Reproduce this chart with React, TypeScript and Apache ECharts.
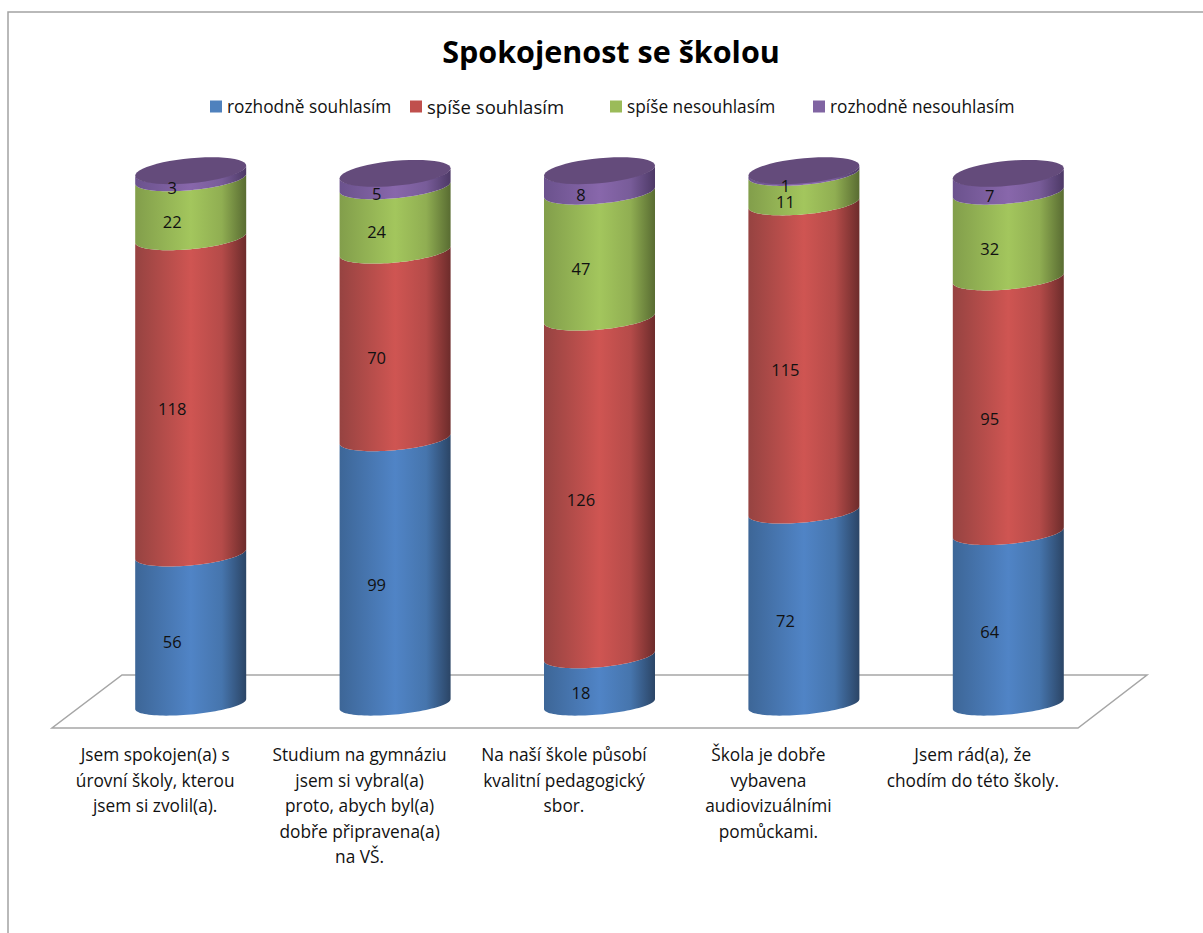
import React, { useEffect, useRef } from "react";
import * as echarts from "echarts";

const title = "Spokojenost se školou";
const categories = [
  "Jsem spokojen(a) s\núrovní školy, kterou\njsem si zvolil(a).",
  "Studium na gymnáziu\njsem si vybral(a)\nproto, abych byl(a)\ndobře připravena(a)\nna VŠ.",
  "Na naší škole působí\nkvalitní pedagogický\nsbor.",
  "Škola je dobře\nvybavena\naudiovizuálními\npomůckami.",
  "Jsem rád(a), že\nchodím do této školy.",
];
const seriesNames = ["rozhodně souhlasím", "spíše souhlasím", "spíše nesouhlasím", "rozhodně nesouhlasím"];
const stronglyAgree = [56, 99, 18, 72, 64];
const ratherAgree = [118, 70, 126, 115, 95];
const ratherDisagree = [22, 24, 47, 11, 32];
const stronglyDisagree = [3, 5, 8, 1, 7];
const seriesValues = [stronglyAgree, ratherAgree, ratherDisagree, stronglyDisagree];
const legendColors = ["#4f81bd", "#c0504d", "#9bbb59", "#8064a2"];
const legendLefts = [205, 405, 605, 808];
const legendTops = [93, 92, 93, 93];
const legendSizes = [17.3, 18.5, 17.3, 17.3];
const shades = [
  ["#3d6697", "#5084c6", "#4675ad", "#2b4566"],
  ["#964341", "#cf5552", "#b54b49", "#6d2c2b"],
  ["#829e4b", "#a3c65d", "#90ae52", "#596c32"],
  ["#6b528d", "#8867ab", "#785c99", "#4d3966"],
];
const capColor = "#644b7b";

const FONT = "'Open Sans', Lato, sans-serif";
const DEPTH_X = 35.5;
const HALF = 55.5;
const TILT = 5;
const MINOR = 11.5;
const CAP_MINOR = 12.5;

function arc(cx: number, cy: number, from: number, to: number, minor: number) {
  const pts: number[][] = [];
  const n = 48;
  for (let i = 0; i <= n; i++) {
    const t = from + ((to - from) * i) / n;
    pts.push([cx + HALF * Math.cos(t), cy - TILT * Math.cos(t) + minor * Math.sin(t)]);
  }
  return pts;
}

function makeRender(idx: number) {
  const s = shades[idx];
  const fill = new echarts.graphic.LinearGradient(0, 0, 1, 0, [
    { offset: 0, color: s[0] },
    { offset: 0.5, color: s[1] },
    { offset: 0.78, color: s[2] },
    { offset: 1, color: s[3] },
  ]);
  return (params: any, api: any) => {
    const i = api.value(0);
    const start = api.value(1);
    const end = api.value(2);
    const p0 = api.coord([i, start]);
    const p1 = api.coord([i, end]);
    const cx = p0[0] + DEPTH_X;
    const pts = [...arc(cx, p0[1], Math.PI, 0, start === 0 ? 10.5 : MINOR), ...arc(cx, p1[1], 0, Math.PI, MINOR)];
    const children: any[] = [{ type: "polygon", shape: { points: pts }, style: { fill } }];
    if (idx === seriesValues.length - 1) {
      children.push({
        type: "polygon",
        shape: { points: arc(cx, p1[1], 0, Math.PI * 2, CAP_MINOR) },
        style: { fill: capColor },
      });
    }
    children.push({
      type: "text",
      z2: 100,
      style: {
        text: String(end - start),
        x: cx - 18.5,
        y: (p0[1] + p1[1]) / 2 + 13,
        align: "center",
        verticalAlign: "middle",
        fill: "#111",
        font: `16.5px ${FONT}`,
      },
    });
    return { type: "group", children };
  };
}

export default function App() {
  const ref = useRef<HTMLDivElement>(null);
  useEffect(() => {
    const chart = echarts.init(ref.current!, undefined, { renderer: "svg" });
    const series = seriesValues.map((vals, idx) => ({
      type: "custom",
      name: seriesNames[idx],
      renderItem: makeRender(idx),
      encode: { x: 0, y: [1, 2] },
      itemStyle: { color: legendColors[idx] },
      data: vals.map((v, c) => {
        let base = 0;
        for (let k = 0; k < idx; k++) base += seriesValues[k][c];
        return [c, base, base + v];
      }),
    }));
    chart.setOption({
      animation: false,
      backgroundColor: "#fff",
      title: {
        text: title,
        left: 606,
        top: 30,
        textAlign: "center",
        textStyle: { fontFamily: FONT, fontSize: 30.5, fontWeight: "bold", color: "#000" },
      },
      legend: seriesNames.map((name, i) => ({
        data: [name],
        left: legendLefts[i],
        top: legendTops[i],
        icon: "rect",
        itemWidth: 12,
        itemHeight: 12,
        textStyle: { fontFamily: FONT, fontSize: legendSizes[i], color: "#111" },
      })),
      grid: { left: 53, width: 1022, top: 168, height: 536 },
      xAxis: {
        type: "category",
        data: categories,
        axisLine: { show: false },
        axisTick: { show: false },
        axisLabel: {
          interval: 0,
          margin: 38,
          fontFamily: FONT,
          fontSize: 17.3,
          lineHeight: 25.5,
          color: "#111",
          verticalAlign: "top",
        },
      },
      yAxis: { type: "value", min: 0, max: 200, show: false, splitLine: { show: false } },
      graphic: [
        {
          type: "polyline",
          z: -1,
          shape: { points: [[1203, 12], [8, 12], [8, 933]] },
          style: { fill: "none", stroke: "#a3a3a3", lineWidth: 1.5 },
        },
        {
          type: "polygon",
          z: -1,
          shape: { points: [[122, 675], [1147, 675], [1078, 728], [52, 728]] },
          style: { fill: "#fff", stroke: "#a6a6a6", lineWidth: 1.5 },
        },
      ],
      series,
    });
    return () => chart.dispose();
  }, []);
  return <div ref={ref} style={{ position: "fixed", left: 0, top: 0, width: 1203, height: 933 }} />;
}
